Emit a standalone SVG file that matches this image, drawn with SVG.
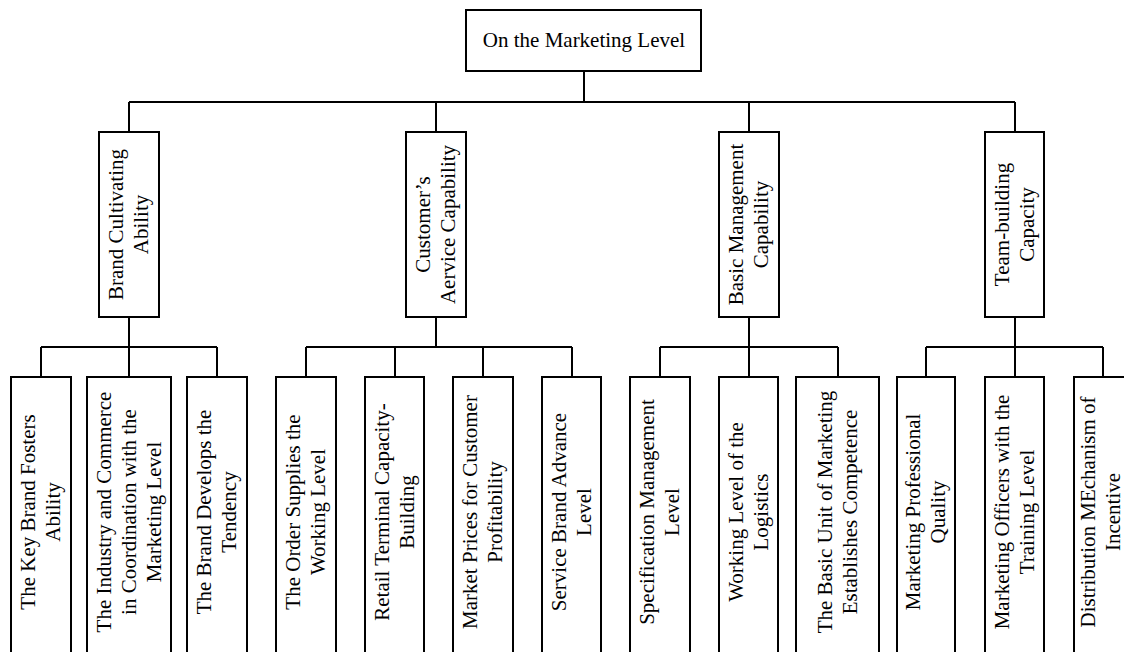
<svg xmlns="http://www.w3.org/2000/svg" width="1124" height="652" viewBox="0 0 1124 652">
<style>
.box{fill:#fff;stroke:#000;stroke-width:2}
.t{font-family:"Liberation Serif","Times New Roman",serif;font-size:21px;fill:#000;text-anchor:middle}
.conn{stroke:#000;stroke-width:2;fill:none}
</style>
<rect width="1124" height="652" fill="#fff"/>
<g id="connectors" class="conn">
<path d="M584 71V102M129 102H1015M129 102V132M436 102V132M749 102V132M1015 102V132"/>
<path d="M129 317V347M41 347H217M41 347V377M129 347V377M217 347V377"/>
<path d="M436 317V347M306 347H572M306 347V377M395 347V377M483 347V377M572 347V377"/>
<path d="M749 317V347M660 347H838M660 347V377M749 347V377M838 347V377"/>
<path d="M1015 317V347M926 347H1103M926 347V377M1015 347V377M1103 347V377"/>
</g>
<g id="root"><rect class="box" x="466" y="10" width="235" height="61"/><text class="t" x="584" y="47">On the Marketing Level</text></g>
<g id="l2-brand"><rect class="box" x="99" y="132" width="60" height="185"/><text class="t" transform="translate(129,224.5) rotate(-90)"><tspan x="0" y="-6">Brand Cultivating</tspan><tspan x="0" y="19">Ability</tspan></text></g>
<g id="l2-customer"><rect class="box" x="406" y="132" width="60" height="185"/><text class="t" transform="translate(436,224.5) rotate(-90)"><tspan x="0" y="-6">Customer’s</tspan><tspan x="0" y="19">Aervice Capability</tspan></text></g>
<g id="l2-basic"><rect class="box" x="719" y="132" width="60" height="185"/><text class="t" transform="translate(749,224.5) rotate(-90)"><tspan x="0" y="-6">Basic Management</tspan><tspan x="0" y="19">Capability</tspan></text></g>
<g id="l2-team"><rect class="box" x="985" y="132" width="59" height="185"/><text class="t" transform="translate(1015,224.5) rotate(-90)"><tspan x="0" y="-6">Team-building</tspan><tspan x="0" y="19">Capacity</tspan></text></g>
<g id="c1"><rect class="box" x="11" y="377" width="60" height="290"/><text class="t" transform="translate(41,512) rotate(-90)"><tspan x="0" y="-6">The Key Brand Fosters</tspan><tspan x="0" y="19">Ability</tspan></text></g>
<g id="c2"><rect class="box" x="87" y="377" width="84" height="290"/><text class="t" transform="translate(129,512) rotate(-90)"><tspan x="0" y="-18">The Industry and Commerce</tspan><tspan x="0" y="7">in Coordination with the</tspan><tspan x="0" y="32">Marketing Level</tspan></text></g>
<g id="c3"><rect class="box" x="187" y="377" width="60" height="290"/><text class="t" transform="translate(217,512) rotate(-90)"><tspan x="0" y="-6">The Brand Develops the</tspan><tspan x="0" y="19">Tendency</tspan></text></g>
<g id="c4"><rect class="box" x="276" y="377" width="60" height="290"/><text class="t" transform="translate(306,512) rotate(-90)"><tspan x="0" y="-6">The Order Supplies the</tspan><tspan x="0" y="19">Working Level</tspan></text></g>
<g id="c5"><rect class="box" x="365" y="377" width="59" height="290"/><text class="t" transform="translate(395,512) rotate(-90)"><tspan x="0" y="-6">Retail Terminal Capacity-</tspan><tspan x="0" y="19">Building</tspan></text></g>
<g id="c6"><rect class="box" x="453" y="377" width="60" height="290"/><text class="t" transform="translate(483,512) rotate(-90)"><tspan x="0" y="-6">Market Prices for Customer</tspan><tspan x="0" y="19">Profitability</tspan></text></g>
<g id="c7"><rect class="box" x="542" y="377" width="59" height="290"/><text class="t" transform="translate(572,512) rotate(-90)"><tspan x="0" y="-6">Service Brand Advance</tspan><tspan x="0" y="19">Level</tspan></text></g>
<g id="c8"><rect class="box" x="630" y="377" width="60" height="290"/><text class="t" transform="translate(660,512) rotate(-90)"><tspan x="0" y="-6">Specification Management</tspan><tspan x="0" y="19">Level</tspan></text></g>
<g id="c9"><rect class="box" x="719" y="377" width="59" height="290"/><text class="t" transform="translate(749,512) rotate(-90)"><tspan x="0" y="-6">Working Level of the</tspan><tspan x="0" y="19">Logistics</tspan></text></g>
<g id="c10"><rect class="box" x="796" y="377" width="83" height="290"/><text class="t" transform="translate(838,512) rotate(-90)"><tspan x="0" y="-6">The Basic Unit of Marketing</tspan><tspan x="0" y="19">Establishes Competence</tspan></text></g>
<g id="c11"><rect class="box" x="897" y="377" width="58" height="290"/><text class="t" transform="translate(926,512) rotate(-90)"><tspan x="0" y="-6">Marketing Professional</tspan><tspan x="0" y="19">Quality</tspan></text></g>
<g id="c12"><rect class="box" x="985" y="377" width="59" height="290"/><text class="t" transform="translate(1015,512) rotate(-90)"><tspan x="0" y="-6">Marketing Officers with the</tspan><tspan x="0" y="19">Training Level</tspan></text></g>
<g id="c13"><rect class="box" x="1074" y="377" width="60" height="290"/><text class="t" transform="translate(1101,512) rotate(-90)"><tspan x="0" y="-6">Distribution MEchanism of</tspan><tspan x="0" y="19">Incentive</tspan></text></g>
</svg>
